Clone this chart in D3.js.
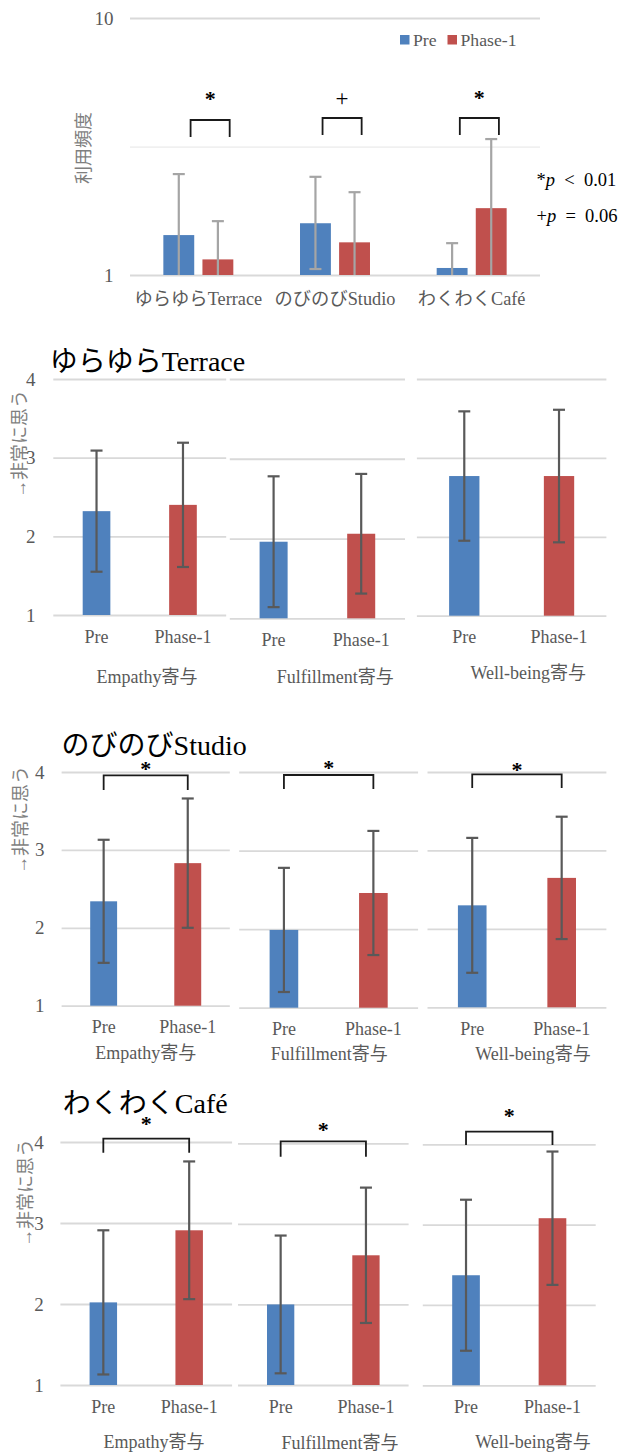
<!DOCTYPE html>
<html>
<head>
<meta charset="utf-8">
<script src="https://cdn.jsdelivr.net/npm/d3@7"></script>
<style>
  html, body { margin: 0; padding: 0; background: #fff; }
  svg { display: block; }
</style>
</head>
<body>
<svg width="619" height="1452"></svg>
<script>
// values
const places = ["ゆらゆらTerrace", "のびのびStudio", "わくわくCafé"]
const phases = ["Pre", "Phase-1"]
const groups = ["Empathy寄与", "Fulfillment寄与", "Well-being寄与"]

// usage frequency (log axis)
const freqMean = [[1.43, 1.15], [1.59, 1.34], [1.065, 1.82]]
const freqHigh = [[2.47, 1.62], [2.41, 2.10], [1.33, 3.38]]
const freqLow  = [[null, null], [1.055, null], [null, null]]   // null = runs below the axis
const freqSig  = ["*", "+", "*"]
const freqGridTicks  = [1, 3.16, 10]
const freqLabelTicks = [1, 10]

// score panels, 1..4
const scoreTicks = [1, 2, 3, 4]
const terraceMean = [[2.32, 2.40], [1.96, 2.06], [2.77, 2.77]]
const terraceErr  = [[0.77, 0.79], [0.82, 0.75], [0.82, 0.84]]
const terraceSig  = [null, null, null]
const studioMean  = [[2.34, 2.83], [1.99, 2.46], [2.30, 2.65]]
const studioErr   = [[0.79, 0.83], [0.79, 0.79], [0.86, 0.78]]
const studioSig   = ["*", "*", "*"]
const cafeMean    = [[2.02, 2.91], [2.00, 2.61], [2.37, 3.08]]
const cafeErr     = [[0.89, 0.85], [0.855, 0.84], [0.94, 0.83]]
const cafeSig     = ["*", "*", "*"]

const FONT = '"Liberation Serif", "Times New Roman", "Noto Sans CJK JP", serif'
const BLUE = "#4f81bd", RED = "#c0504d"
const barColor = p => p === "Pre" ? BLUE : RED

const svg = d3.select("svg").style("font-family", FONT)

function label(g, x, y, s, o = {}) {
  const tr = o.rot ? `translate(${x},${y}) rotate(${o.rot})` : `translate(${x},${y})`
  return g.append("text")
    .attr("transform", tr)
    .attr("text-anchor", o.anchor || "middle")
    .attr("dominant-baseline", o.base || "central")
    .style("font-family", FONT)
    .style("font-size", (o.size || 18) + "px")
    .style("font-weight", o.weight || "normal")
    .attr("fill", o.fill || "#595959")
    .text(s)
}

function styleAxis(ax, size) {
  ax.select(".domain").remove()
  ax.selectAll("text")
    .style("font-family", FONT)
    .style("font-size", size + "px")
    .attr("fill", "#595959")
}

function errBar(g, cx, yHi, yLo, capHi, capLo, color, w) {
  g.append("line").attr("x1", cx).attr("x2", cx).attr("y1", yHi).attr("y2", yLo)
    .attr("stroke", color).attr("stroke-width", w)
  if (capHi) g.append("line").attr("x1", cx - 6).attr("x2", cx + 6).attr("y1", yHi).attr("y2", yHi)
    .attr("stroke", color).attr("stroke-width", w)
  if (capLo) g.append("line").attr("x1", cx - 6).attr("x2", cx + 6).attr("y1", yLo).attr("y2", yLo)
    .attr("stroke", color).attr("stroke-width", w)
}

function bracket(g, xa, xb, top, bot) {
  g.append("path")
    .attr("d", `M${xa},${bot}V${top}H${xb}V${bot}`)
    .attr("fill", "none").attr("stroke", "#1a1a1a").attr("stroke-width", 1.8)
}

// ---------- top chart: usage frequency ----------
function drawFrequency() {
  const g = svg.append("g")
  const L = { x0: 130, x1: 540, yTop: 18, yBot: 275 }
  const y = d3.scaleLog().domain([1, 10]).range([L.yBot, L.yTop])
  const x = d3.scaleBand().domain(places).range([L.x0, L.x1]).paddingInner(0.488).paddingOuter(0.244)
  const xi = d3.scaleBand().domain(phases).range([0, x.bandwidth()]).paddingInner(0.21)

  const grid = g.append("g").attr("transform", `translate(${L.x0},0)`)
    .call(d3.axisLeft(y).tickValues(freqGridTicks).tickSize(-(L.x1 - L.x0)).tickPadding(16.5)
      .tickFormat(d => freqLabelTicks.includes(d) ? d3.format("d")(d) : ""))
  styleAxis(grid, 19)
  grid.selectAll("line")
    .attr("stroke", d => freqLabelTicks.includes(d) ? "#d9d9d9" : "#f0f0f0")
    .attr("stroke-width", 1.8)

  places.forEach((pl, i) => {
    phases.forEach((ph, j) => {
      const bx = x(pl) + xi(ph)
      g.append("rect")
        .attr("x", bx).attr("y", y(freqMean[i][j]))
        .attr("width", xi.bandwidth()).attr("height", L.yBot - y(freqMean[i][j]))
        .attr("fill", barColor(ph))
      const lo = freqLow[i][j]
      errBar(g, bx + xi.bandwidth() / 2, y(freqHigh[i][j]), lo ? y(lo) : L.yBot, true, !!lo, "#a5a5a5", 2.2)
    })
  })

  const ax = g.append("g").attr("transform", `translate(0,${L.yBot})`)
    .call(d3.axisBottom(x).tickSize(0).tickPadding(17.5))
  styleAxis(ax, 18.3)

  // significance marks
  const brTop = [120, 118, 118], brBot = [137, 135, 135], brOff = [11.8, 7.1, 7.7], symY = [95, 98, 94]
  places.forEach((pl, i) => {
    const xa = x(pl) + xi("Pre") + xi.bandwidth() / 2 + brOff[i]
    const xb = x(pl) + xi("Phase-1") + xi.bandwidth() / 2 + brOff[i]
    bracket(g, xa, xb, brTop[i], brBot[i])
    const star = freqSig[i] === "*"
    label(g, (xa + xb) / 2, symY[i] + (star ? 3 : 0), freqSig[i],
      { size: star ? 22 : 23, fill: "#000", weight: star ? "bold" : "normal" })
  })

  // legend
  const legX = [400, 447.5]
  phases.forEach((ph, j) => {
    g.append("rect").attr("x", legX[j]).attr("y", 35).attr("width", 9.5).attr("height", 9.5).attr("fill", barColor(ph))
    label(g, legX[j] + 13, 40, ph, { anchor: "start", size: 17.7 })
  })

  label(g, 84, 148, "利用頻度", { rot: -90, size: 18, fill: "#7f7f7f" })

  // p-value notes
  const notes = [["*", " \u00a0<\u00a0 0.01", 180], ["+", " \u00a0=\u00a0 0.06", 216]]
  notes.forEach(([m, rest, yy]) => {
    const t = label(g, 536.5, yy, "", { anchor: "start", size: 18.5, fill: "#000" })
    t.append("tspan").text(m)
    t.append("tspan").style("font-style", "italic").text("p")
    t.append("tspan").text(rest)
  })
}

// ---------- score sections ----------
const sectionLayouts = [
  { titleX: 49.7, titleY: 371, yTitle: [20, 444], tickPad: 17.8,
    sub: [
      { x0: 53.3,  x1: 226.2, yTop: 379, yBot: 615,   gx: 146.9, gy: 677 },
      { x0: 229.8, x1: 405,   yTop: 379, yBot: 618.3, gx: 335.2, gy: 677 },
      { x0: 416.9, x1: 606.4, yTop: 379, yBot: 615.7, gx: 528.2, gy: 673 }] },
  { titleX: 61.6, titleY: 755, yTitle: [21.3, 820], tickPad: 17.2,
    sub: [
      { x0: 61.6,  x1: 229.8, yTop: 772, yBot: 1005.7, gx: 145.7, gy: 1053, bt: 775.3, bb: 790, sy: 765 },
      { x0: 239.2, x1: 418.1, yTop: 772, yBot: 1007.7, gx: 329.2, gy: 1054, bt: 775,   bb: 789, sy: 764 },
      { x0: 427.5, x1: 606.4, yTop: 772, yBot: 1007.3, gx: 532.9, gy: 1054, bt: 774.3, bb: 788, sy: 766 }] },
  { titleX: 62.8, titleY: 1113, yTitle: [26, 1193], tickPad: 16.6,
    sub: [
      { x0: 60.4,  x1: 232.1, yTop: 1142,   yBot: 1385,   gx: 154,   gy: 1442, bt: 1138.7, bb: 1152.7, sy: 1120 },
      { x0: 238,   x1: 408.6, yTop: 1143.3, yBot: 1385,   gx: 339.9, gy: 1442.5, bt: 1141.3, bb: 1156.7, sy: 1126.7 },
      { x0: 422.8, x1: 595.7, yTop: 1144.3, yBot: 1385.3, gx: 532.9, gy: 1442, bt: 1131.7, bb: 1145,   sy: 1112.7 }] }
]

function drawSection(title, means, errs, sigs, L) {
  const g = svg.append("g")
  label(g, L.titleX, L.titleY, title, { anchor: "start", base: "alphabetic", size: 28, fill: "#000" })
  label(g, L.yTitle[0], L.yTitle[1], "→非常に思う", { rot: -90, size: 18, fill: "#7f7f7f" })

  groups.forEach((grp, k) => {
    const S = L.sub[k]
    const y = d3.scaleLinear().domain([1, 4]).range([S.yBot, S.yTop])
    const x = d3.scaleBand().domain(phases).range([S.x0, S.x1]).paddingInner(0.68).paddingOuter(0.34)

    const grid = g.append("g").attr("transform", `translate(${S.x0},0)`)
      .call(d3.axisLeft(y).tickValues(scoreTicks).tickSize(-(S.x1 - S.x0)).tickPadding(L.tickPad)
        .tickFormat(k === 0 ? d3.format("d") : () => ""))
    styleAxis(grid, 19)
    grid.selectAll("line").attr("stroke", "#d9d9d9").attr("stroke-width", 1.8)

    phases.forEach((ph, j) => {
      const m = means[k][j], e = errs[k][j]
      g.append("rect")
        .attr("x", x(ph)).attr("y", y(m))
        .attr("width", x.bandwidth()).attr("height", S.yBot - y(m))
        .attr("fill", barColor(ph))
      errBar(g, x(ph) + x.bandwidth() / 2, y(m + e), y(m - e), true, true, "#595959", 2.2)
    })

    const ax = g.append("g").attr("transform", `translate(0,${S.yBot})`)
      .call(d3.axisBottom(x).tickSize(0).tickPadding(15))
    styleAxis(ax, 18)

    label(g, S.gx, S.gy, grp, { size: 18 })

    if (sigs[k]) {
      const xa = x("Pre") + x.bandwidth() / 2, xb = x("Phase-1") + x.bandwidth() / 2
      bracket(g, xa, xb, S.bt, S.bb)
      label(g, (xa + xb) / 2, S.sy + 3, sigs[k], { size: 22, fill: "#000", weight: "bold" })
    }
  })
}

drawFrequency()
drawSection(places[0], terraceMean, terraceErr, terraceSig, sectionLayouts[0])
drawSection(places[1], studioMean, studioErr, studioSig, sectionLayouts[1])
drawSection(places[2], cafeMean, cafeErr, cafeSig, sectionLayouts[2])
</script>
</body>
</html>
